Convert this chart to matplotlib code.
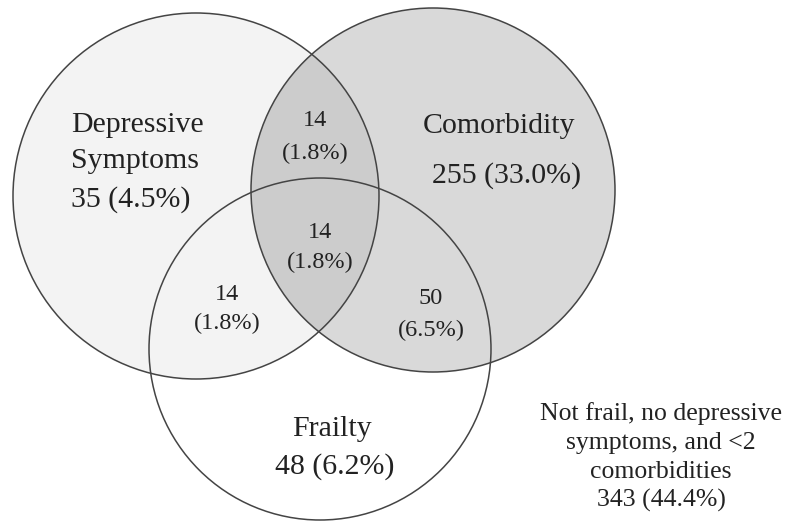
import matplotlib
matplotlib.use("Agg")
import matplotlib.pyplot as plt
from matplotlib.patches import Circle

# ---- data ----
set_names = ["Depressive\nSymptoms", "Comorbidity", "Frailty"]
only_counts = [35, 255, 48]
only_pcts = [4.5, 33.0, 6.2]
# overlaps: Dep&Com, Dep&Com&Frail, Dep&Frail, Com&Frail
overlap_counts = [14, 14, 14, 50]
overlap_pcts = [1.8, 1.8, 1.8, 6.5]
none_label = "Not frail, no depressive\nsymptoms, and <2\ncomorbidities"
none_count = 343
none_pct = 44.4

# ---- layout (pixel coordinates) ----
W, H = 785, 521
circ = {"dep": ((196, 196), 183), "com": ((433, 190), 182), "fra": ((320, 349), 171)}
col_dep = "#f3f3f3"
col_com = "#d9d9d9"
col_both = "#cccccc"
edge = "#444444"

fig = plt.figure(figsize=(W / 100, H / 100), dpi=100)
ax = fig.add_axes([0, 0, 1, 1])
ax.set_xlim(0, W)
ax.set_ylim(H, 0)
ax.set_aspect("equal")
ax.axis("off")

dep = Circle(*circ["dep"], facecolor=col_dep, edgecolor="none", zorder=1)
com = Circle(*circ["com"], facecolor=col_com, edgecolor="none", zorder=1)
ax.add_patch(dep)
ax.add_patch(com)
both = Circle(*circ["dep"], facecolor=col_both, edgecolor="none", zorder=2)
ax.add_patch(both)
both.set_clip_path(com)
for key in ["dep", "com", "fra"]:
    ax.add_patch(Circle(*circ[key], facecolor="none", edgecolor=edge, lw=1.1, zorder=3))

font = "Liberation Serif"
big = 21.5
small = 17.5
tc = "#222222"


def lines(x, ys, strings, size, ha="center"):
    for y, s in zip(ys, strings):
        ax.text(x, y, s, ha=ha, va="center", fontsize=size, family=font, color=tc, zorder=4)


dep_lines = set_names[0].split("\n") + [f"{only_counts[0]} ({only_pcts[0]:.1f}%)"]
lines(71, [125, 161, 200], dep_lines, big, ha="left")
lines(499, [126], [set_names[1]], big)
lines(507, [176], [f"{only_counts[1]} ({only_pcts[1]:.1f}%)"], big)
lines(332, [429], [set_names[2]], big)
lines(335, [467], [f"{only_counts[2]} ({only_pcts[2]:.1f}%)"], big)

ov_pos = [(315, 121, 153), (320, 232, 262), (227, 294, 323), (431, 298, 330)]
for (x, y1, y2), n, p in zip(ov_pos, overlap_counts, overlap_pcts):
    lines(x, [y1, y2], [f"{n}", f"({p:.1f}%)"], small)

none_lines = none_label.split("\n") + [f"{none_count} ({none_pct:.1f}%)"]
lines(661, [414, 443, 472, 500], none_lines, 18.5)

fig.savefig("out.png", dpi=100, facecolor="white")
